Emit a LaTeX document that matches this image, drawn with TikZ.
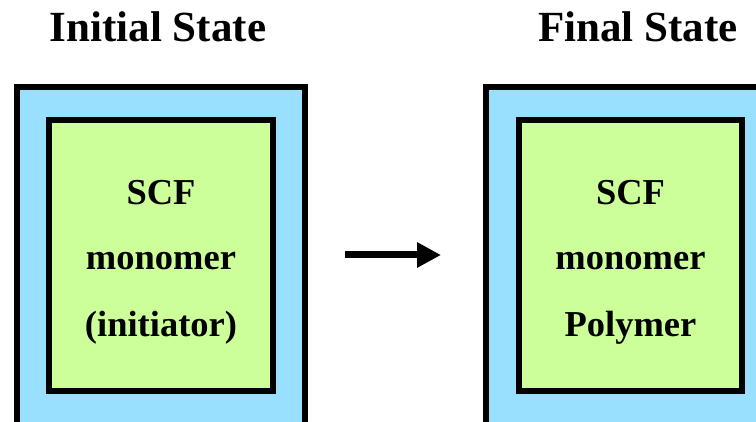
\documentclass[tikz,border=0pt]{standalone}
\usepackage{fontspec}
\setmainfont{Liberation Serif}
\usetikzlibrary{arrows.meta}
\definecolor{shellblue}{HTML}{99E0FF}
\definecolor{coregreen}{HTML}{CCFF99}
\begin{document}
\begin{tikzpicture}[x=1pt,y=1pt,
  title/.style={font=\fontsize{43}{43}\selectfont\bfseries, anchor=base},
  label/.style={font=\fontsize{36.5}{36.5}\selectfont\bfseries, anchor=base},
  shell/.style={draw=black, fill=shellblue, line width=6pt},
  core/.style={draw=black, fill=coregreen, line width=6pt},
  flow/.style={line width=7pt, -{Triangle[length=24pt,width=24pt]}}]
\useasboundingbox (0,0) rectangle (756,-422);
\clip (0,0) rectangle (756,-422);
% titles
\node[title] (t1) at (158,-42) {Initial State};
\node[title] (t2) at (638,-42) {Final State};
% left container: outer shell and inner core
\draw[shell] (17,-87) rectangle (304.5,-460);
\draw[core] (49,-120) rectangle (273,-391);
\node[label] (l1) at (161,-205) {SCF};
\node[label] (l2) at (161,-270) {monomer};
\node[label] (l3) at (161,-337) {(initiator)};
% right container
\draw[shell] (486,-87) rectangle (800,-460);
\draw[core] (519,-120) rectangle (742,-391);
\node[label] (r1) at (630.5,-205) {SCF};
\node[label] (r2) at (630.5,-270) {monomer};
\node[label] (r3) at (630.5,-337) {Polymer};
% transition arrow
\coordinate (from) at (345,-255);
\coordinate (to) at (441,-255);
\draw[flow] (from) -- (to);
\end{tikzpicture}
\end{document}
